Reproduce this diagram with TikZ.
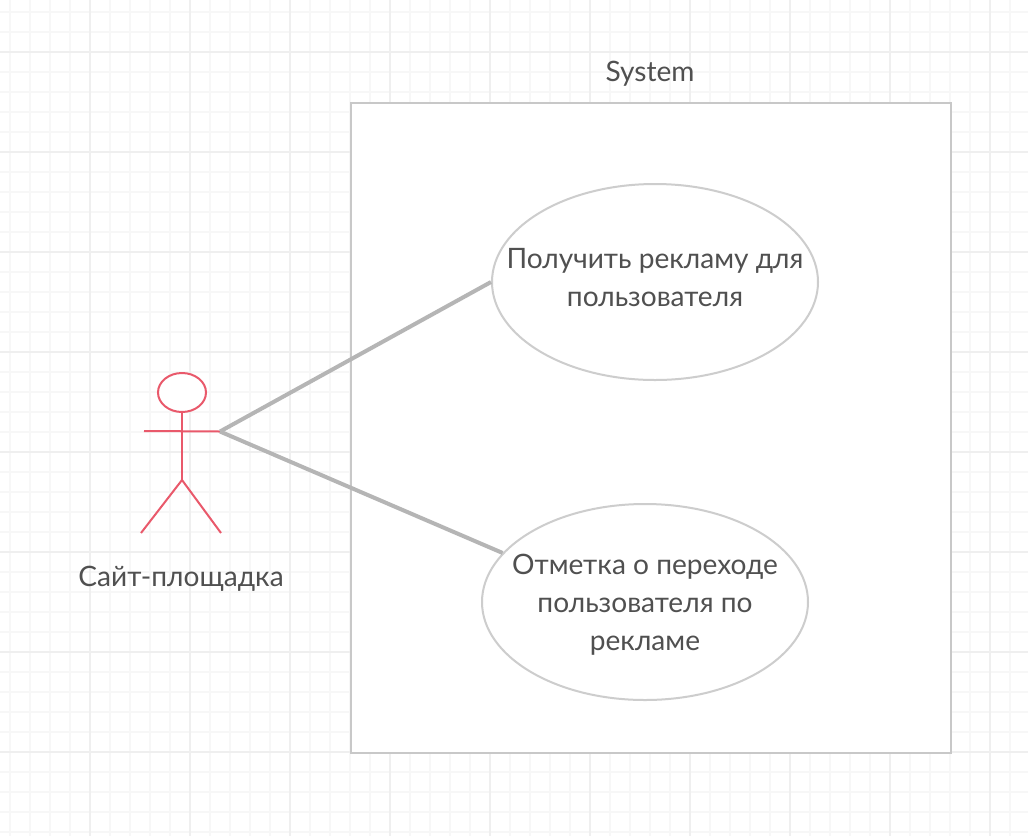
\documentclass[tikz,border=0pt]{standalone}
\usepackage{xcolor}
\usepackage{fontspec}
\setmainfont{Lato}
\usepackage{tikz}
\usetikzlibrary{shapes.geometric}
\definecolor{gridminor}{HTML}{F7F7F7}
\definecolor{gridmajor}{HTML}{EFEFEF}
\definecolor{boxborder}{HTML}{C8C8C8}
\definecolor{ovalborder}{HTML}{CDCDCD}
\definecolor{linkgray}{HTML}{B5B5B5}
\definecolor{actorred}{HTML}{E9596B}
\definecolor{textgray}{HTML}{505050}
\tikzset{
    usecase/.style={ellipse, draw=ovalborder, fill=white, line width=2pt, minimum width=326pt,
          minimum height=196pt, inner sep=0pt},
    label/.style={text=textgray, font=\fontsize{28.1}{38}\selectfont, align=center, inner sep=0pt},
    actorline/.style={draw=actorred, line width=2pt},
    link/.style={draw=linkgray, line width=4pt}
}

\begin{document}
\begin{tikzpicture}[x=1pt, y=-1pt]
    \useasboundingbox (0,0) rectangle (1028,836);
    % grid
    \foreach \x in {10,30,...,1020} {
      \draw[gridminor, line width=1.6pt] (\x,0) -- (\x,836);
    }
    \foreach \y in {12,32,...,832} {
      \draw[gridminor, line width=1.6pt] (0,\y) -- (1028,\y);
    }
    \foreach \x in {90,190,...,990} {
      \draw[gridmajor, line width=1.6pt] (\x,0) -- (\x,836);
    }
    \foreach \y in {52,152,...,752} {
      \draw[gridmajor, line width=1.6pt] (0,\y) -- (1028,\y);
    }
    % system
    \node[draw=boxborder, fill=white, line width=2pt, minimum width=600pt, minimum height=650pt,
          inner sep=0pt] (systembox) at (651,428) {};
    \node[label] (systemlabel) at (650,74) {System};
    % use cases
    \node[usecase] (getad) at (655,282) {};
    \node[label] (getadtext) at (655,278) {Получить рекламу для\\пользователя};
    \node[usecase] (markclick) at (645,602) {};
    \node[label] (markclicktext) at (645,604.5) {Отметка о переходе\\пользователя по\\рекламе};
    % actor
    \node[ellipse, actorline, fill=white, minimum width=48pt, minimum height=39pt, inner sep=0pt]
          (head) at (182,392.5) {};
    \coordinate (hip) at (182,480);
    \coordinate (armleft) at (144,431);
    \coordinate (armright) at (220,431.5);
    \coordinate (footleft) at (141,533);
    \coordinate (footright) at (221,533);
    \draw[actorline] (head) -- (hip);
    \draw[actorline] (armleft) -- (armright);
    \draw[actorline] (footleft) -- (hip) -- (footright);
    \node[label] (actorlabel) at (181,579) {Сайт-площадка};
    % links
    \draw[link] (armright) -- (getad.west);
    \draw[link] (armright) -- (markclick.161);
\end{tikzpicture}
\end{document}
